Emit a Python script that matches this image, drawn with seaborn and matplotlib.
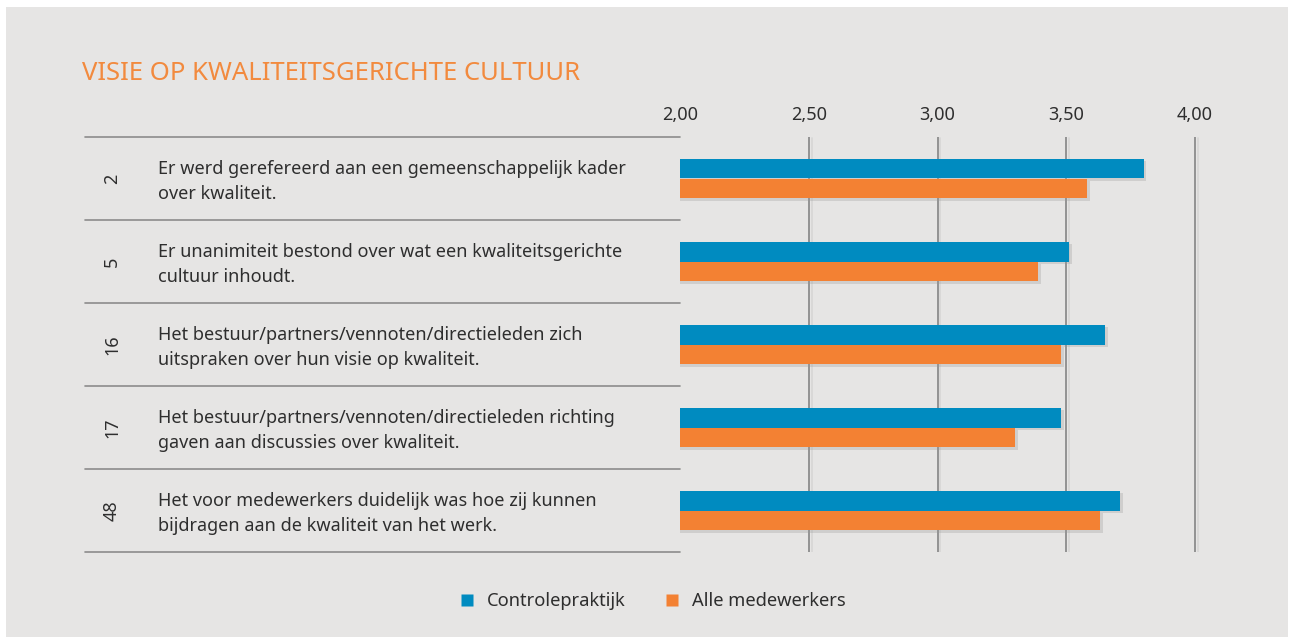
import matplotlib
matplotlib.use("Agg")
import matplotlib.pyplot as plt
import matplotlib.patheffects as pe
from matplotlib.patches import Rectangle
from matplotlib.transforms import blended_transform_factory, offset_copy
import seaborn as sns
import pandas as pd

# ---- data ----
item_numbers = ["2", "5", "16", "17", "48"]
item_labels = [
    "Er werd gerefereerd aan een gemeenschappelijk kader\nover kwaliteit.",
    "Er unanimiteit bestond over wat een kwaliteitsgerichte\ncultuur inhoudt.",
    "Het bestuur/partners/vennoten/directieleden zich\nuitspraken over hun visie op kwaliteit.",
    "Het bestuur/partners/vennoten/directieleden richting\ngaven aan discussies over kwaliteit.",
    "Het voor medewerkers duidelijk was hoe zij kunnen\nbijdragen aan de kwaliteit van het werk.",
]
series_names = ["Controlepraktijk", "Alle medewerkers"]
controlepraktijk = [3.80, 3.51, 3.65, 3.48, 3.71]
alle_medewerkers = [3.58, 3.39, 3.48, 3.30, 3.63]
tick_values = [2.0, 2.5, 3.0, 3.5, 4.0]
tick_labels = ["2,00", "2,50", "3,00", "3,50", "4,00"]
title = "VISIE OP KWALITEITSGERICHTE CULTUUR"

BLUE = "#008bc0"
ORANGE = "#f38133"
BG = "#e6e5e4"
LINE = "#8c8c8c"
TEXT = "#2e2e2e"

df = pd.DataFrame({
    "item": item_numbers * 2,
    "value": controlepraktijk + alle_medewerkers,
    "series": [series_names[0]] * 5 + [series_names[1]] * 5,
})

sns.set_theme(style="white")
plt.rcParams["font.family"] = ["Noto Sans", "DejaVu Sans"]

W, H = 1290, 637
fig = plt.figure(figsize=(W / 100, H / 100), dpi=100, facecolor="white")
# gray panel
fig.add_artist(Rectangle((6 / W, 0.0), (W - 8) / W, 1 - 7 / H,
                         transform=fig.transFigure, facecolor=BG,
                         edgecolor="none", zorder=-10))

ax_left, ax_right = 680, 1220
ax_top, ax_bottom = 137, 552
ax = fig.add_axes([ax_left / W, 1 - ax_bottom / H,
                   (ax_right - ax_left) / W, (ax_bottom - ax_top) / H])
ax.set_facecolor("none")
px_per_unit = 257.5
ax.set_xlim(2.0, 2.0 + (ax_right - ax_left) / px_per_unit)

shadow = [pe.SimplePatchShadow(offset=(2, -2), shadow_rgbFace="#9a9a9a", alpha=0.3), pe.Normal()]

sns.barplot(data=df, y="item", x="value", hue="series", order=item_numbers,
            hue_order=series_names, palette=[BLUE, ORANGE], orient="h",
            width=0.48, ax=ax, legend=False, zorder=3, saturation=1)
for p in ax.patches:
    p.set_path_effects(shadow)
    p.set_edgecolor("none")
ax.set_ylim(len(item_numbers) - 0.5, -0.5)

# grid lines
for v in tick_values[1:]:
    ax.axvline(v, color=LINE, lw=1.3, zorder=1,
               path_effects=[pe.SimpleLineShadow(offset=(2, -1), shadow_color="#b8b8b8", alpha=0.3), pe.Normal()])

# top tick labels
ax.xaxis.set_ticks_position("top")
ax.set_xticks(tick_values)
ax.set_xticklabels(tick_labels, fontsize=13, color=TEXT)
ax.tick_params(axis="x", length=0, pad=9)
ax.set_yticks([])
ax.set_xlabel("")
ax.set_ylabel("")
for s in ax.spines.values():
    s.set_visible(False)

# row separators on the left
trans = blended_transform_factory(ax.transAxes, ax.transData)
x0 = (85 - ax_left) / (ax_right - ax_left)
for b in [i - 0.5 for i in range(len(item_numbers) + 1)]:
    ax.plot([x0, 0], [b, b], transform=trans, color=LINE, lw=1.2, clip_on=False, zorder=2)

# row labels
trans_txt = offset_copy(trans, fig=fig, x=0, y=-3, units="dots")
xnum = (112 - ax_left) / (ax_right - ax_left)
xtxt = (158 - ax_left) / (ax_right - ax_left)
for i, (n, lab) in enumerate(zip(item_numbers, item_labels)):
    ax.text(xnum, i, n, transform=trans, rotation=90, ha="center", va="center",
            fontsize=13, color=TEXT)
    ax.text(xtxt, i, lab, transform=trans_txt, ha="left", va="center",
            fontsize=13, color=TEXT, linespacing=1.5)

# title
fig.text(82 / W, 1 - 73 / H, title, ha="left", va="center", fontsize=18.5,
         color="#f28a3e", fontweight="light")

# legend
handles = [plt.Line2D([], [], marker="s", linestyle="none", markersize=8,
                      markerfacecolor=c, markeredgecolor="none") for c in [BLUE, ORANGE]]
fig.legend(handles, series_names, loc="center", bbox_to_anchor=(651 / W, 1 - 601 / H),
           ncol=2, frameon=False, fontsize=13.2, handletextpad=0.5, columnspacing=1.9,
           handlelength=1.2, labelcolor=TEXT)

fig.savefig("out.png", dpi=100, facecolor="white")
